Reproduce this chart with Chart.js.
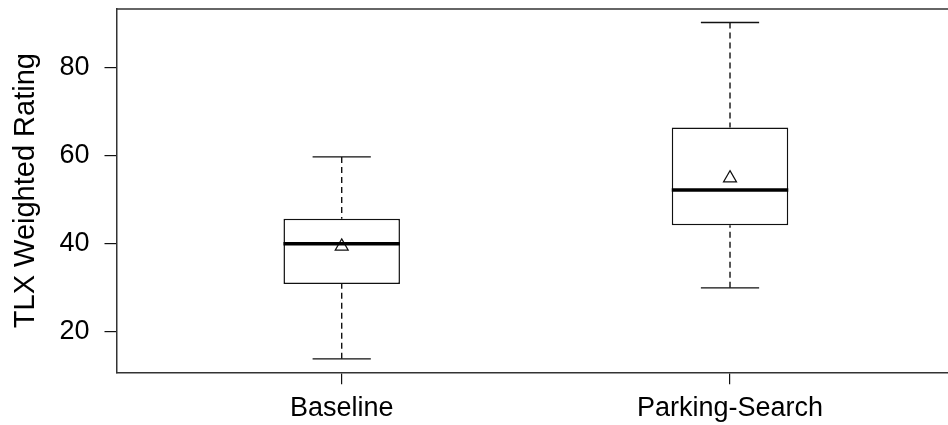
<!DOCTYPE html>
<html>
<head>
<meta charset="utf-8">
<script src="https://cdn.jsdelivr.net/npm/chart.js@4"></script>
<style>
  html, body { margin: 0; padding: 0; background: #fff; overflow: hidden; }
  #wrap { width: 948px; height: 425px; }
</style>
</head>
<body>
<div id="wrap"><canvas id="box-canvas"></canvas></div>
<script>
// Boxplot values
const categories = ['Baseline', 'Parking-Search'];
const positions = [1, 2];
const whiskerLow = [13.9, 30.0];
const q1 = [30.9, 44.2];
const median = [40.0, 52.2];
const q3 = [45.7, 66.4];
const whiskerHigh = [59.7, 90.2];
const means = [39.4, 54.9];
const yTicks = [20, 40, 60, 80];

const FONT = "'Liberation Sans', Arial, sans-serif";
const BOX_HALF = 0.15;
const CAP_HALF = 0.075;
const LINE = '#111';

// whiskers, caps, medians and top frame line
const boxParts = {
    id: 'boxParts',
    beforeDatasetsDraw(chart) {
        const ctx = chart.ctx;
        const x = chart.scales.x;
        const y = chart.scales.y;
        ctx.save();
        ctx.strokeStyle = LINE;
        ctx.lineWidth = 1.4;
        positions.forEach((p, i) => {
            const cx = x.getPixelForValue(p);
            // dashed whiskers
            ctx.setLineDash([6, 4]);
            ctx.beginPath();
            ctx.moveTo(cx, y.getPixelForValue(whiskerHigh[i]));
            ctx.lineTo(cx, y.getPixelForValue(q3[i]));
            ctx.moveTo(cx, y.getPixelForValue(whiskerLow[i]));
            ctx.lineTo(cx, y.getPixelForValue(q1[i]));
            ctx.stroke();
            // caps
            ctx.setLineDash([]);
            ctx.beginPath();
            [whiskerHigh[i], whiskerLow[i]].forEach(v => {
                const py = y.getPixelForValue(v);
                ctx.moveTo(x.getPixelForValue(p - CAP_HALF), py);
                ctx.lineTo(x.getPixelForValue(p + CAP_HALF), py);
            });
            ctx.stroke();
        });
        ctx.restore();
    },
    afterDatasetsDraw(chart) {
        const ctx = chart.ctx;
        const x = chart.scales.x;
        const y = chart.scales.y;
        const area = chart.chartArea;
        ctx.save();
        ctx.strokeStyle = '#000';
        ctx.lineWidth = 3.5;
        positions.forEach((p, i) => {
            const py = y.getPixelForValue(median[i]);
            ctx.beginPath();
            ctx.moveTo(x.getPixelForValue(p - BOX_HALF), py);
            ctx.lineTo(x.getPixelForValue(p + BOX_HALF), py);
            ctx.stroke();
        });
        // top of the frame (right side lies past the page edge)
        ctx.lineWidth = 1.5;
        ctx.strokeStyle = '#333';
        ctx.beginPath();
        ctx.moveTo(area.left, area.top);
        ctx.lineTo(area.right, area.top);
        ctx.stroke();
        ctx.restore();
    }
};

const ctx = document.getElementById('box-canvas');
new Chart(ctx, {
    data: {
        datasets: [
            {
                type: 'bar',
                data: positions.map((p, i) => ({ x: p, y: [q1[i], q3[i]] })),
                backgroundColor: '#fff',
                borderColor: LINE,
                borderWidth: 1.5,
                borderSkipped: false,
                barPercentage: 0.3,
                categoryPercentage: 1,
                order: 2
            },
            {
                type: 'scatter',
                data: positions.map((p, i) => ({ x: p, y: means[i] })),
                pointStyle: 'triangle',
                pointRadius: 7.5,
                pointBackgroundColor: 'rgba(0,0,0,0)',
                pointBorderColor: LINE,
                pointBorderWidth: 1.2,
                order: 1
            }
        ]
    },
    options: {
        responsive: true,
        maintainAspectRatio: false,
        animation: false,
        events: [],
        layout: { autoPadding: false, padding: { top: 9, left: 0, right: 0, bottom: 0 } },
        plugins: {
            legend: { display: false },
            tooltip: { enabled: false }
        },
        scales: {
            x: {
                type: 'linear',
                offset: false,
                min: 0.42,
                max: 2.5614,
                afterBuildTicks: (scale) => {
                    scale.ticks = positions.map(v => ({ value: v }));
                },
                afterFit: (scale) => {
                    scale.height = 52.7;
                    scale.paddingLeft = 0;
                    scale.paddingRight = 0;
                },
                grid: {
                    offset: false,
                    drawOnChartArea: false,
                    tickLength: 12,
                    lineWidth: 1.2,
                    color: LINE,
                    tickColor: LINE
                },
                border: { color: '#333', width: 1.5 },
                ticks: {
                    color: '#000',
                    padding: 8,
                    maxRotation: 0,
                    autoSkip: false,
                    font: { family: FONT, size: 27 },
                    callback: (v) => categories[positions.indexOf(v)]
                }
            },
            y: {
                type: 'linear',
                min: 10.85,
                max: 93.25,
                afterBuildTicks: (scale) => {
                    scale.ticks = yTicks.map(v => ({ value: v }));
                },
                afterFit: (scale) => {
                    scale.width = 116.5;
                    scale.paddingTop = 0;
                    scale.paddingBottom = 0;
                },
                grid: {
                    drawOnChartArea: false,
                    tickLength: 12,
                    lineWidth: 1.2,
                    color: LINE,
                    tickColor: LINE
                },
                border: { color: '#333', width: 1.5 },
                ticks: {
                    color: '#000',
                    padding: 15,
                    font: { family: FONT, size: 27 }
                },
                title: {
                    display: true,
                    text: 'TLX Weighted Rating',
                    color: '#000',
                    font: { family: FONT, size: 29 },
                    padding: { top: 9, bottom: 0 }
                }
            }
        }
    },
    plugins: [boxParts]
});
</script>
</body>
</html>
